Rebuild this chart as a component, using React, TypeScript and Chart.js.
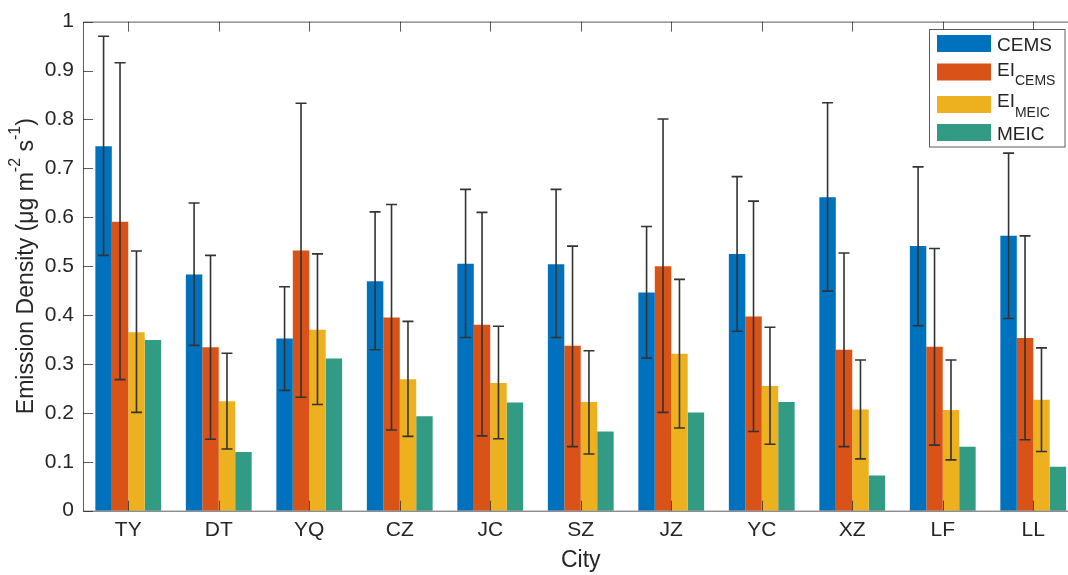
import React, { useEffect, useRef } from "react";
import { Chart, registerables } from "chart.js";

Chart.register(...registerables);

const cities = ["TY", "DT", "YQ", "CZ", "JC", "SZ", "JZ", "YC", "XZ", "LF", "LL"];

const cems = [0.745, 0.483, 0.352, 0.469, 0.505, 0.504, 0.446, 0.525, 0.641, 0.541, 0.562];
const cemsLow = [0.522, 0.338, 0.246, 0.329, 0.354, 0.354, 0.312, 0.367, 0.449, 0.378, 0.393];
const cemsHigh = [0.970, 0.629, 0.458, 0.611, 0.657, 0.657, 0.581, 0.683, 0.834, 0.703, 0.731];

const eiCems = [0.591, 0.334, 0.532, 0.395, 0.380, 0.337, 0.500, 0.397, 0.329, 0.335, 0.353];
const eiCemsLow = [0.268, 0.146, 0.232, 0.165, 0.153, 0.131, 0.201, 0.162, 0.131, 0.134, 0.145];
const eiCemsHigh = [0.916, 0.522, 0.833, 0.626, 0.610, 0.541, 0.801, 0.633, 0.527, 0.536, 0.562];

const eiMeic = [0.365, 0.224, 0.370, 0.269, 0.261, 0.222, 0.321, 0.255, 0.207, 0.206, 0.227];
const eiMeicLow = [0.201, 0.126, 0.217, 0.152, 0.147, 0.116, 0.169, 0.136, 0.106, 0.104, 0.121];
const eiMeicHigh = [0.531, 0.322, 0.525, 0.387, 0.377, 0.327, 0.473, 0.375, 0.308, 0.308, 0.333];

const meic = [0.349, 0.120, 0.311, 0.193, 0.221, 0.162, 0.201, 0.222, 0.072, 0.131, 0.090];

const yTickValues = [0, 0.1, 0.2, 0.3, 0.4, 0.5, 0.6, 0.7, 0.8, 0.9, 1];
const yTickLabels = ["0", "0.1", "0.2", "0.3", "0.4", "0.5", "0.6", "0.7", "0.8", "0.9", "1"];

const seriesNames = ["CEMS", "EI_CEMS", "EI_MEIC", "MEIC"];
const colors = ["#0072BD", "#D95319", "#EDB120", "#329B84"];

const FONT = "'Liberation Sans', Arial, Helvetica, sans-serif";
const TEXT = "#262626";

type Seg = { t: string; size: number; dy: number };

function segWidth(ctx: CanvasRenderingContext2D, segs: Seg[]) {
  let w = 0;
  for (const s of segs) {
    ctx.font = `${s.size}px ${FONT}`;
    w += ctx.measureText(s.t).width;
  }
  return w;
}

function drawRich(ctx: CanvasRenderingContext2D, segs: Seg[], x: number, y: number) {
  let cx = x;
  ctx.textBaseline = "alphabetic";
  ctx.textAlign = "left";
  for (const s of segs) {
    ctx.font = `${s.size}px ${FONT}`;
    ctx.fillText(s.t, cx, y + s.dy);
    cx += ctx.measureText(s.t).width;
  }
}

const errorSets = [
  [cemsLow, cemsHigh],
  [eiCemsLow, eiCemsHigh],
  [eiMeicLow, eiMeicHigh],
];

const decorPlugin = {
  id: "decor",
  afterDatasetsDraw(chart: any) {
    const ctx = chart.ctx as CanvasRenderingContext2D;
    const y = chart.scales.y;
    ctx.save();
    ctx.strokeStyle = "#333333";
    ctx.lineWidth = 1.6;
    errorSets.forEach((pair, di) => {
      const meta = chart.getDatasetMeta(di);
      meta.data.forEach((el: any, j: number) => {
        const x = el.x;
        const yl = y.getPixelForValue(pair[0][j]);
        const yh = y.getPixelForValue(pair[1][j]);
        ctx.beginPath();
        ctx.moveTo(x, yl);
        ctx.lineTo(x, yh);
        ctx.moveTo(x - 5.5, yl);
        ctx.lineTo(x + 5.5, yl);
        ctx.moveTo(x - 5.5, yh);
        ctx.lineTo(x + 5.5, yh);
        ctx.stroke();
      });
    });
    ctx.restore();
  },
  afterDraw(chart: any) {
    const ctx = chart.ctx as CanvasRenderingContext2D;
    const a = chart.chartArea;
    const xs = chart.scales.x;
    const ys = chart.scales.y;
    ctx.save();
    // axes box
    ctx.strokeStyle = "rgba(38,38,38,0.75)";
    ctx.lineWidth = 1;
    ctx.beginPath();
    ctx.rect(a.left + 0.5, a.top + 0.5, a.right - a.left, a.bottom - a.top);
    ctx.stroke();
    // ticks (inward)
    ctx.beginPath();
    xs.ticks.forEach((_: any, i: number) => {
      const px = Math.round(xs.getPixelForTick(i)) + 0.5;
      ctx.moveTo(px, a.bottom);
      ctx.lineTo(px, a.bottom - 10);
      ctx.moveTo(px, a.top);
      ctx.lineTo(px, a.top + 10);
    });
    ys.ticks.forEach((t: any) => {
      const py = Math.round(ys.getPixelForValue(t.value)) + 0.5;
      ctx.moveTo(a.left, py);
      ctx.lineTo(a.left + 10, py);
      ctx.moveTo(a.right, py);
      ctx.lineTo(a.right - 10, py);
    });
    ctx.stroke();

    ctx.fillStyle = TEXT;
    // x title
    ctx.font = `23px ${FONT}`;
    ctx.textAlign = "center";
    ctx.textBaseline = "alphabetic";
    ctx.fillText("City", (a.left + a.right) / 2, 567);

    // y title (rotated, with superscripts)
    const ySegs: Seg[] = [
      { t: "Emission Density (\u03bcg m", size: 23, dy: 0 },
      { t: "-2", size: 16, dy: -13 },
      { t: " s", size: 23, dy: 0 },
      { t: "-1", size: 16, dy: -13 },
      { t: ")", size: 23, dy: 0 },
    ];
    const tw = segWidth(ctx, ySegs);
    ctx.save();
    ctx.translate(33.3, (a.top + a.bottom) / 2);
    ctx.rotate(-Math.PI / 2);
    drawRich(ctx, ySegs, -tw / 2, 0);
    ctx.restore();

    // legend
    const lx = 929.5, ly = 29.5, lw = 135.5, lh = 117.5;
    ctx.fillStyle = "#ffffff";
    ctx.fillRect(lx, ly, lw, lh);
    ctx.strokeStyle = "rgba(38,38,38,0.75)";
    ctx.lineWidth = 1;
    ctx.strokeRect(lx, ly, lw, lh);
    const rows: { segs: Seg[]; top: number; base: number }[] = [
      { segs: [{ t: "CEMS", size: 19, dy: 0 }], top: 35, base: 51 },
      { segs: [{ t: "EI", size: 19, dy: 0 }, { t: "CEMS", size: 14, dy: 9 }], top: 63.5, base: 76 },
      { segs: [{ t: "EI", size: 19, dy: 0 }, { t: "MEIC", size: 14, dy: 10 }], top: 96, base: 106.5 },
      { segs: [{ t: "MEIC", size: 19, dy: 0 }], top: 124, base: 140 },
    ];
    rows.forEach((r, i) => {
      ctx.fillStyle = colors[i];
      ctx.fillRect(937, r.top, 54, 17);
      ctx.fillStyle = TEXT;
      drawRich(ctx, r.segs, 997, r.base);
    });
    ctx.restore();
  },
};

export default function App() {
  const ref = useRef<HTMLCanvasElement | null>(null);

  useEffect(() => {
    document.body.style.margin = "0";
    document.body.style.overflow = "hidden";
    const canvas = ref.current;
    if (!canvas) return;
    const datasets = [cems, eiCems, eiMeic, meic].map((d, i) => ({
      label: seriesNames[i],
      data: d,
      backgroundColor: colors[i],
      borderWidth: 0,
      categoryPercentage: 0.727,
      barPercentage: 1.0,
    }));
    const chart = new Chart(canvas, {
      type: "bar",
      data: { labels: cities, datasets },
      options: {
        responsive: false,
        animation: false,
        devicePixelRatio: 1,
        layout: { padding: { top: 15.5, right: 11.5, left: 0, bottom: 0 } },
        plugins: { legend: { display: false }, tooltip: { enabled: false } },
        scales: {
          x: {
            type: "category",
            offset: true,
            grid: { display: false, drawTicks: false },
            border: { display: false },
            ticks: {
              color: TEXT,
              font: { family: FONT, size: 21 },
              padding: 7,
              maxRotation: 0,
              autoSkip: false,
            },
            afterFit: (s: any) => {
              s.height = 64.3;
            },
          },
          y: {
            type: "linear",
            min: 0,
            max: 1,
            grid: { display: false, drawTicks: false },
            border: { display: false },
            afterBuildTicks: (s: any) => {
              s.ticks = yTickValues.map((v) => ({ value: v }));
            },
            ticks: {
              color: TEXT,
              font: { family: FONT, size: 21 },
              padding: 9,
              callback: (v: any) => {
                const idx = yTickValues.findIndex((t) => Math.abs(t - Number(v)) < 1e-9);
                return idx >= 0 ? yTickLabels[idx] : "";
              },
            },
            afterFit: (s: any) => {
              s.width = 83;
            },
          },
        },
      },
      plugins: [decorPlugin],
    });
    return () => chart.destroy();
  }, []);

  return (
    <div style={{ width: 1068, height: 575, overflow: "hidden", background: "#fff" }}>
      <canvas ref={ref} width={1090} height={575} style={{ display: "block", width: 1090, height: 575 }} />
    </div>
  );
}
